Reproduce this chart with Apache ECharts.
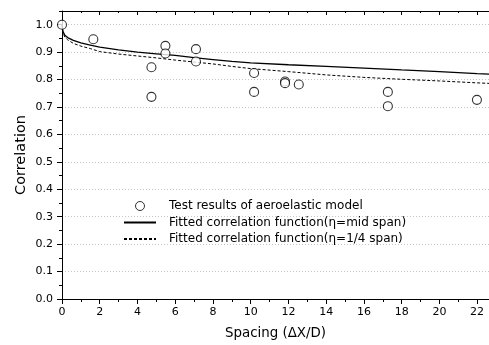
<!DOCTYPE html>
<html>
<head>
<meta charset="utf-8">
<script src="https://cdn.jsdelivr.net/npm/echarts@6/dist/echarts.min.js"></script>
<style>
html,body{margin:0;padding:0;background:#fff;}
#chart{width:489px;height:345px;}
</style>
</head>
<body>
<div id="chart"></div>
<script>
// Test results (spacing ΔX/D, correlation)
const testX = [0, 1.66, 4.74, 4.74, 5.48, 5.48, 7.1, 7.1, 10.18, 10.18, 11.82, 11.82, 12.55, 17.27, 17.27, 21.99];
const testY = [1.0, 0.947, 0.845, 0.737, 0.923, 0.895, 0.911, 0.866, 0.824, 0.755, 0.793, 0.787, 0.782, 0.755, 0.703, 0.726];

// Fitted curves
const fitX   = [0, 0.05, 0.15, 0.3, 0.6, 1, 1.5, 2, 3, 4, 5, 6, 7, 8, 9, 10, 12, 14, 16, 18, 20, 22, 23];
const fitMid = [1.0, 0.975, 0.962, 0.953, 0.943, 0.934, 0.926, 0.918, 0.908, 0.900, 0.894, 0.888, 0.880, 0.873, 0.866, 0.861, 0.854, 0.848, 0.842, 0.835, 0.829, 0.822, 0.819];
const fitQtr = [1.0, 0.970, 0.955, 0.945, 0.932, 0.922, 0.913, 0.902, 0.893, 0.886, 0.879, 0.871, 0.864, 0.857, 0.848, 0.840, 0.829, 0.817, 0.808, 0.801, 0.795, 0.788, 0.785];

const seriesNames = [
  'Test results of aeroelastic model',
  'Fitted correlation function(η=mid span)',
  'Fitted correlation function(η=1/4 span)'
];
const xTitle = 'Spacing (ΔX/D)';
const yTitle = 'Correlation';

const FONT = 'DejaVu Sans';
const X_MAX = 22.63;
const chart = echarts.init(document.getElementById('chart'), null, {renderer: 'canvas'});

const pair = (xs, ys) => xs.map((x, i) => [x, ys[i]]);
const isEvenInt = v => Math.abs(v - Math.round(v)) < 1e-6 && Math.round(v) % 2 === 0;

function tickAxis(pos, interval, len, inside, showLine) {
  return {
    type: 'value', min: 0, max: X_MAX, interval: interval, position: pos,
    axisLine: {show: showLine, onZero: false, lineStyle: {color: '#000', width: 1}},
    axisTick: {show: true, inside: inside, length: len, lineStyle: {color: '#000'}},
    axisLabel: {show: false},
    splitLine: {show: false}
  };
}

chart.setOption({
  animation: false,
  backgroundColor: '#fff',
  textStyle: {fontFamily: FONT, color: '#000'},
  grid: {left: 62, top: 11, bottom: 46, right: 0, containLabel: false},
  legend: {
    orient: 'vertical',
    left: 123,
    top: 199,
    padding: 0,
    itemWidth: 32,
    itemHeight: 9,
    itemGap: 2.5,
    textStyle: {fontFamily: FONT, fontSize: 12, color: '#000', lineHeight: 14, padding: [0, 0, 0, 8]},
    data: [
      {name: seriesNames[0], itemStyle: {color: '#fff', borderColor: '#000', borderWidth: 1}},
      {name: seriesNames[1]},
      {name: seriesNames[2]}
    ]
  },
  xAxis: [
    {
      type: 'value', min: 0, max: X_MAX, interval: 2, position: 'bottom',
      name: xTitle, nameLocation: 'middle', nameGap: 28, nameMoveOverlap: false,
      nameTextStyle: {fontFamily: FONT, fontSize: 13.4, color: '#000'},
      axisLine: {show: true, onZero: false, lineStyle: {color: '#000', width: 1}},
      axisTick: {show: true, inside: false, length: 5, lineStyle: {color: '#000'}},
      axisLabel: {fontFamily: FONT, fontSize: 11, color: '#000', margin: 8, showMaxLabel: false,
        formatter: v => (isEvenInt(v) ? String(Math.round(v)) : '')},
      splitLine: {show: false}
    },
    tickAxis('bottom', 1, 3, false, false),
    tickAxis('top', 2, 4, true, true),
    tickAxis('top', 1, 2, true, false)
  ],
  yAxis: [
    {
      type: 'value', min: 0, max: 1.05, interval: 0.1, position: 'left',
      name: yTitle, nameLocation: 'middle', nameGap: 33, nameRotate: 90, nameMoveOverlap: false,
      nameTextStyle: {fontFamily: FONT, fontSize: 14.5, color: '#000'},
      axisLine: {show: true, onZero: false, lineStyle: {color: '#000', width: 1}},
      axisTick: {show: true, inside: false, length: 5, lineStyle: {color: '#000'}},
      axisLabel: {fontFamily: FONT, fontSize: 11, color: '#000', margin: 9, showMaxLabel: false,
        formatter: v => (Math.abs(v * 10 - Math.round(v * 10)) < 1e-6 ? v.toFixed(1) : '')},
      splitLine: {show: true, lineStyle: {color: '#c4c4c4', width: 1, type: [1, 2]}}
    },
    {
      type: 'value', min: 0, max: 1.05, interval: 0.05, position: 'left', offset: 0,
      axisLine: {show: false},
      axisTick: {show: true, inside: false, length: 3, lineStyle: {color: '#000'}},
      axisLabel: {show: false},
      splitLine: {show: false}
    }
  ],
  series: [
    {
      name: seriesNames[0], type: 'scatter', xAxisIndex: 0, yAxisIndex: 0,
      symbol: 'circle', symbolSize: 9,
      itemStyle: {color: '#fff', borderColor: '#000', borderWidth: 1.1},
      data: pair(testX, testY), z: 5
    },
    {
      name: seriesNames[1], type: 'line', xAxisIndex: 0, yAxisIndex: 0,
      symbol: 'none', smooth: false,
      lineStyle: {color: '#000', width: 1.3, type: 'solid'},
      itemStyle: {color: 'rgba(0,0,0,0)', borderWidth: 0},
      data: pair(fitX, fitMid)
    },
    {
      name: seriesNames[2], type: 'line', xAxisIndex: 0, yAxisIndex: 0,
      symbol: 'none', smooth: false,
      lineStyle: {color: '#000', width: 1, type: [3, 2]},
      itemStyle: {color: 'rgba(0,0,0,0)', borderWidth: 0},
      data: pair(fitX, fitQtr)
    }
  ]
});
</script>
</body>
</html>
